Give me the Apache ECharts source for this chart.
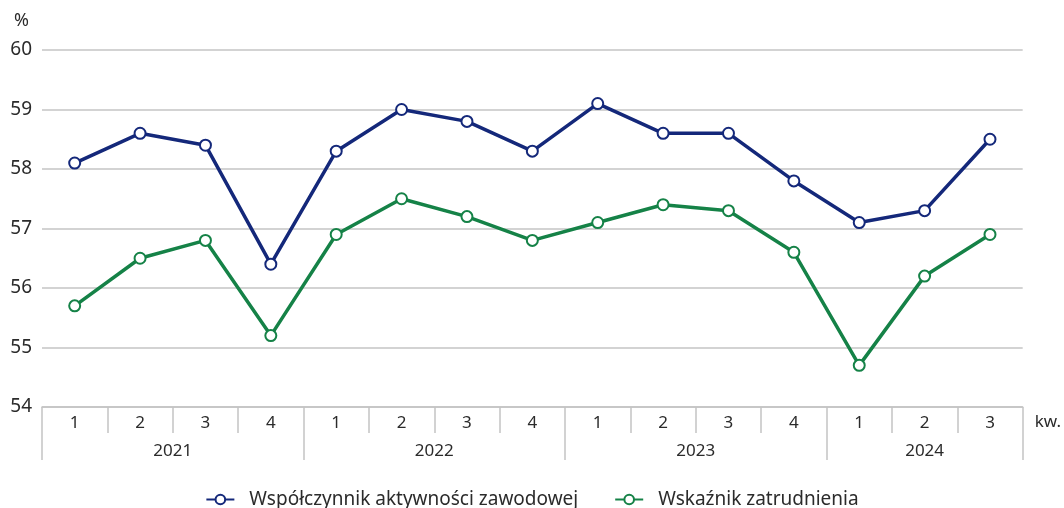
<!DOCTYPE html>
<html>
<head>
<meta charset="utf-8">
<script src="https://cdn.jsdelivr.net/npm/echarts@6/dist/echarts.min.js"></script>
<style>
  html, body { margin: 0; padding: 0; background: #fff; }
  #chart { width: 1064px; height: 508px; }
</style>
</head>
<body>
<div id="chart"></div>
<script>
// kwartały i lata
const quarters = ['1', '2', '3', '4', '1', '2', '3', '4', '1', '2', '3', '4', '1', '2', '3']
// pozycje lat na osi co pół kwartału (31 punktów, 0..15)
const yearSlots = ['', '', '', '', '2021', '', '', '', '', '', '', '', '2022', '', '', '', '', '', '', '', '2023', '', '', '', '', '', '', '2024', '', '', '']
const yearBreaks = [0, 8, 16, 24, 30]

const activity = [58.1, 58.6, 58.4, 56.4, 58.3, 59.0, 58.8, 58.3, 59.1, 58.6, 58.6, 57.8, 57.1, 57.3, 58.5]
const employment = [55.7, 56.5, 56.8, 55.2, 56.9, 57.5, 57.2, 56.8, 57.1, 57.4, 57.3, 56.6, 54.7, 56.2, 56.9]

const seriesNames = ['Współczynnik aktywności zawodowej', 'Wskaźnik zatrudnienia']
const seriesColors = ['#14287a', '#158247']

const font = 'Noto Sans'
const textColor = '#2b2b2b'
const lineGray = '#c4c4c4'

let chart = echarts.init(document.getElementById('chart'))

function lineSeries(name, data, color) {
  return {
    name: name,
    type: 'line',
    xAxisIndex: 0,
    data: data,
    symbol: 'emptyCircle',
    symbolSize: 11,
    lineStyle: { color: color, width: 3.5 },
    itemStyle: { color: color, borderColor: color, borderWidth: 2 },
    z: 3
  }
}

let option = {
  backgroundColor: '#ffffff',
  animation: false,
  textStyle: { fontFamily: font },
  grid: { left: 42, right: 39, top: 50, bottom: 101 },
  legend: {
    top: 485,
    left: 'center',
    itemWidth: 28,
    itemHeight: 12,
    itemGap: 36,
    textStyle: { fontFamily: font, fontSize: 19, color: textColor, padding: [0, 0, 0, 10] },
    data: seriesNames
  },
  xAxis: [
    {
      type: 'category',
      data: quarters,
      boundaryGap: true,
      position: 'bottom',
      name: 'kw.',
      nameLocation: 'end',
      nameGap: 12,
      nameTextStyle: { fontFamily: font, fontSize: 17, color: textColor, verticalAlign: 'top', padding: [7, 0, 0, 0] },
      axisLine: { lineStyle: { color: lineGray, width: 1.5 } },
      axisTick: { show: true, interval: 0, length: 26, lineStyle: { color: lineGray, width: 1.5 } },
      axisLabel: { interval: 0, margin: 8, fontFamily: font, fontSize: 17, color: textColor },
      splitLine: { show: false }
    },
    {
      type: 'category',
      data: yearSlots,
      boundaryGap: false,
      position: 'bottom',
      axisLine: { show: false },
      axisTick: {
        show: true,
        length: 53,
        interval: function (index) { return yearBreaks.indexOf(index) >= 0 },
        lineStyle: { color: lineGray, width: 1.5 }
      },
      axisLabel: { interval: 0, margin: 36, fontFamily: font, fontSize: 17, color: textColor },
      splitLine: { show: false }
    }
  ],
  yAxis: {
    type: 'value',
    min: 54,
    max: 60,
    interval: 1,
    name: '%',
    nameLocation: 'end',
    nameGap: 20,
    nameTextStyle: { fontFamily: font, fontSize: 18, color: textColor, align: 'right', padding: [0, 13, 0, 0] },
    axisLine: { show: false },
    axisTick: { show: false },
    axisLabel: { margin: 10, fontFamily: font, fontSize: 19, color: textColor },
    splitLine: { lineStyle: { color: lineGray, width: 1.5 } }
  },
  series: [
    lineSeries(seriesNames[0], activity, seriesColors[0]),
    lineSeries(seriesNames[1], employment, seriesColors[1])
  ]
}

chart.setOption(option)
window.addEventListener('resize', function () {
  chart.resize()
})
</script>
</body>
</html>
